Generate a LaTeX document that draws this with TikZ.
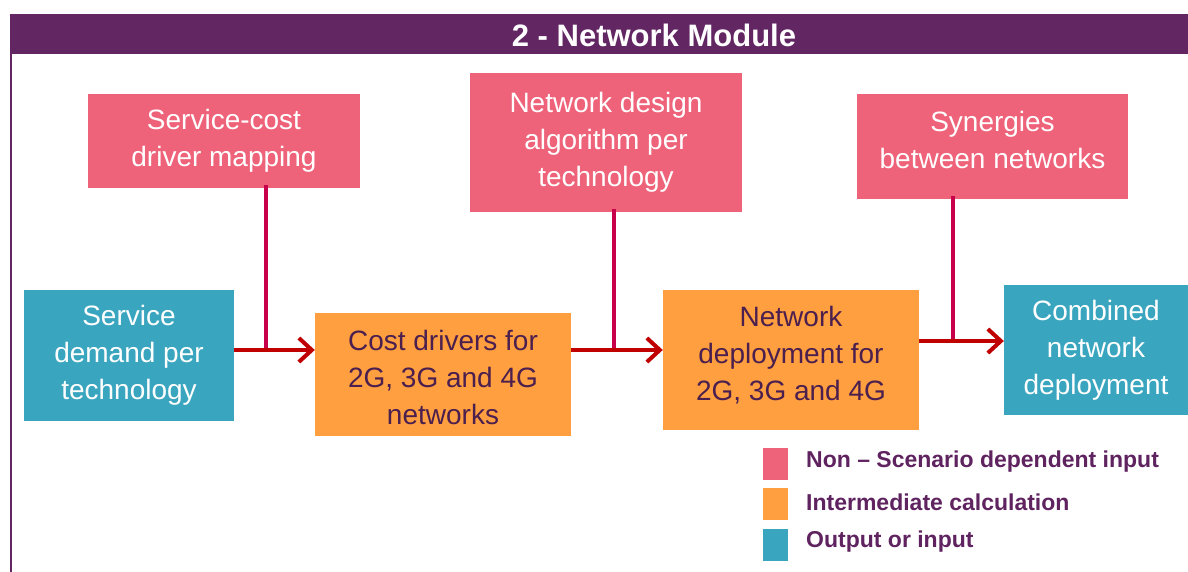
\documentclass[tikz,border=0pt]{standalone}
\usepackage{fontspec}
\setmainfont{Liberation Sans}
\usetikzlibrary{arrows.meta}
\definecolor{hdr}{HTML}{622663}
\definecolor{pinkc}{HTML}{EE6379}
\definecolor{orangec}{HTML}{FF9F40}
\definecolor{tealc}{HTML}{3AA5BF}
\definecolor{arrowc}{HTML}{C00000}
\definecolor{linkc}{HTML}{C8004B}
\definecolor{darktxt}{HTML}{4B1F4E}
\definecolor{legtxt}{HTML}{5F2360}
\tikzset{
  box/.style={rectangle, inner sep=0pt, align=center, font=\fontsize{28}{37}\selectfont},
  pinkbox/.style={box, fill=pinkc, text=white},
  orangebox/.style={box, fill=orangec, text=darktxt},
  tealbox/.style={box, fill=tealc, text=white},
  flow/.style={draw=arrowc, line width=4pt, -{Straight Barb[length=13pt,width=24pt,line width=4pt]}},
  link/.style={draw=linkc, line width=3.5pt},
  legsq/.style={rectangle, inner sep=0pt, minimum width=25pt, minimum height=32pt},
  legtext/.style={anchor=west, inner sep=0pt, text=legtxt, font=\fontsize{23}{26}\selectfont\bfseries}
}
\begin{document}
\begin{tikzpicture}[x=1pt,y=-1pt]
\useasboundingbox (0,0) rectangle (1188,572);
% header
\fill[hdr] (10,14) rectangle (1188,54);
\draw[hdr, line width=2pt] (11,54) -- (11,572);
\node[text=white, font=\fontsize{31}{34}\selectfont\bfseries] (title) at (654,35) {2 - Network Module};
% input boxes
\node[pinkbox, minimum width=272pt, minimum height=94pt] (sc) at (224,141) {Service-cost\\driver mapping};
\node[pinkbox, minimum width=272pt, minimum height=139pt] (nd) at (606,142.5) {Network design\\algorithm per\\technology};
\node[pinkbox, minimum width=271pt, minimum height=105pt] (sy) at (992.5,146.5) {};
\node[text=white, font=\fontsize{28}{37}\selectfont, align=center, inner sep=0pt] (syt) at (992.5,140) {Synergies\\between networks};
% main chain
\node[tealbox, minimum width=210pt, minimum height=131pt] (sd) at (129,355.5) {Service\\demand per\\technology};
\node[orangebox, minimum width=256pt, minimum height=123pt] (cd) at (443,374.5) {};
\node[text=darktxt, font=\fontsize{28}{37}\selectfont, align=center, inner sep=0pt] (cdt) at (443,377) {Cost drivers for\\2G, 3G and 4G\\networks};
\node[orangebox, minimum width=256pt, minimum height=140pt] (dep) at (791,360) {};
\node[text=darktxt, font=\fontsize{28}{37}\selectfont, align=center, inner sep=0pt] (dept) at (791,355) {Network\\deployment for\\2G, 3G and 4G};
\node[tealbox, minimum width=184pt, minimum height=130pt] (cb) at (1096,350) {Combined\\network\\deployment};
% junctions
\coordinate (j1) at (266,350);
\coordinate (j2) at (614,350);
\coordinate (j3) at (953,341);
% links
\draw[link] ([yshift=3pt]sc.south -| j1) -- (j1);
\draw[link] ([yshift=3pt]nd.south -| j2) -- (j2);
\draw[link] ([yshift=3pt]sy.south -| j3) -- (j3);
% flows
\draw[flow] (sd.east |- j1) -- (cd.west |- j1);
\draw[flow] (cd.east |- j2) -- (dep.west |- j2);
\draw[flow] (dep.east |- j3) -- (cb.west |- j3);
% legend
\node[legsq, fill=pinkc] (l1) at (775.5,464) {};
\node[legsq, fill=orangec] (l2) at (775.5,504) {};
\node[legsq, fill=tealc] (l3) at (775.5,544.5) {};
\node[legtext] (t1) at (806,462) {Non – Scenario dependent input};
\node[legtext] (t2) at (806,502) {Intermediate calculation};
\node[legtext] (t3) at (806,542) {Output or input};
\end{tikzpicture}
\end{document}
